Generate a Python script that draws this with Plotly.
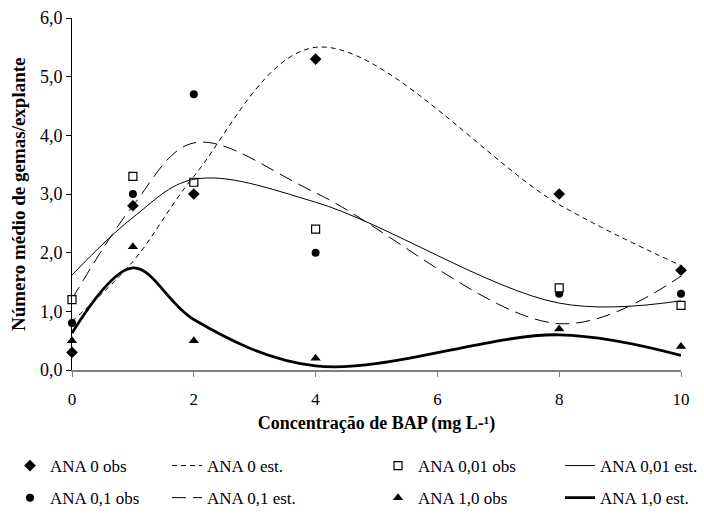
import plotly.graph_objects as go

# Data
bap = [0, 1, 2, 4, 8, 10]

ana0_obs = [0.3, 2.8, 3.0, 5.3, 3.0, 1.7]
ana001_obs = [1.2, 3.3, 3.2, 2.4, 1.4, 1.1]
ana01_obs = [0.8, 3.0, 4.7, 2.0, 1.3, 1.3]
ana1_obs = [0.5, 2.1, 0.5, 0.2, 0.7, 0.4]

ana0_est = [0.83, 1.85, 3.3, 5.5, 2.82, 1.78]
ana001_est = [1.62, 2.6, 3.25, 2.86, 1.14, 1.18]
ana01_est = [1.21, 2.8, 3.87, 3.02, 0.79, 1.6]
ana1_est = [0.63, 1.74, 0.86, 0.07, 0.6, 0.25]

y_ticks = [0, 1, 2, 3, 4, 5, 6]
y_ticktext = ["0,0", "1,0", "2,0", "3,0", "4,0", "5,0", "6,0"]
x_ticks = [0, 2, 4, 6, 8, 10]

FONT = "Times New Roman"
W, H = 704, 518
ML, MR, MT, MB = 72, 23, 18, 148

fig = go.Figure()

def obs(name, y, symbol, size, legend, group, filled=True):
    fig.add_trace(go.Scatter(
        x=bap, y=y, mode="markers", name=name, legend=legend, legendgroup=group,
        marker=dict(symbol=symbol, size=size, color="black" if filled else "white",
                    line=dict(color="black", width=1.2 if not filled else 0)),
        cliponaxis=False,
    ))

def est(name, y, dash, width, legend, group):
    fig.add_trace(go.Scatter(
        x=bap, y=y, mode="lines", name=name, legend=legend, legendgroup=group,
        line=dict(color="black", width=width, dash=dash, shape="spline", smoothing=1.0),
    ))

obs("ANA 0 obs", ana0_obs, "diamond", 9, "legend", "a")
obs("ANA 0,1 obs", ana01_obs, "circle", 8, "legend", "b")
est("ANA 0 est.", ana0_est, "5px,4px", 1, "legend2", "c")
est("ANA 0,1 est.", ana01_est, "14px,7px", 1, "legend2", "d")
obs("ANA 0,01 obs", ana001_obs, "square", 8, "legend3", "e", filled=False)
obs("ANA 1,0 obs", ana1_obs, "triangle-up", 9, "legend3", "f")
est("ANA 0,01 est.", ana001_est, "solid", 1, "legend4", "g")
est("ANA 1,0 est.", ana1_est, "solid", 2.8, "legend4", "h")

def leg(px_left, px_top):
    return dict(xref="container", yref="container", x=px_left / W, y=1 - px_top / H,
                xanchor="left", yanchor="top", orientation="v", tracegroupgap=7,
                bgcolor="rgba(0,0,0,0)", borderwidth=0,
                font=dict(family=FONT, size=17, color="black"), itemclick=False)

plot_w = W - ML - MR

fig.update_layout(
    width=W, height=H,
    margin=dict(l=ML, r=MR, t=MT, b=MB, autoexpand=False),
    paper_bgcolor="white", plot_bgcolor="white",
    font=dict(family=FONT, size=17, color="black"),
    showlegend=True,
    legend=leg(10, 448),
    legend2=leg(167, 448),
    legend3=leg(378, 448),
    legend4=leg(560, 448),
    xaxis=dict(
        range=[0, 10], tickvals=x_ticks, ticks="outside", ticklen=5, tickcolor="#808080",
        showline=True, linecolor="#808080", linewidth=1.5, showgrid=False, zeroline=False,
        ticklabelstandoff=8, tickfont=dict(family=FONT, size=17),
        title=dict(text="<b>Concentração de BAP (mg L-¹)</b>", standoff=8,
                   font=dict(family=FONT, size=18)),
    ),
    yaxis=dict(
        range=[0, 6], tickvals=y_ticks, ticktext=y_ticktext, ticks="outside", ticklen=5,
        tickcolor="black", showline=True, linecolor="black", linewidth=1,
        showgrid=False, zeroline=False, tickfont=dict(family=FONT, size=18),
    ),
    annotations=[dict(
        text="<b>Número médio de gemas/explante</b>", textangle=-90,
        xref="paper", yref="paper", x=(18 - ML) / plot_w, y=0.5,
        xanchor="center", yanchor="middle", showarrow=False,
        font=dict(family=FONT, size=19, color="black"),
    )],
)

fig.write_html("out.html")
